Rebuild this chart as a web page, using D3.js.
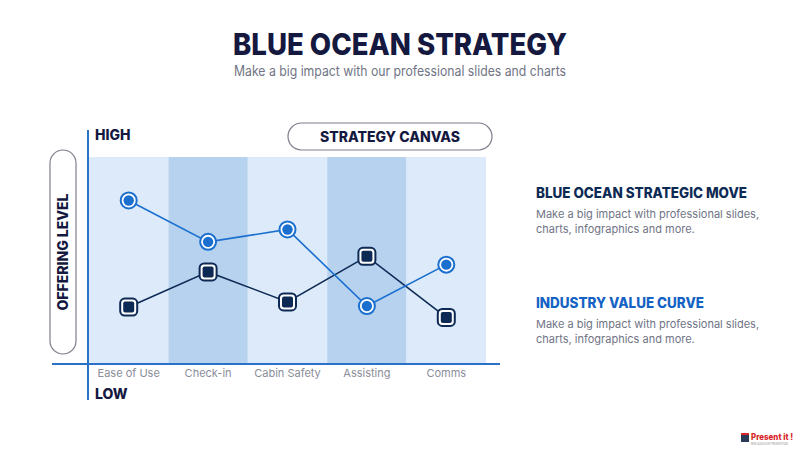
<!DOCTYPE html>
<html>
<head>
<meta charset="utf-8">
<script src="https://cdn.jsdelivr.net/npm/d3@7"></script>
<style>
  body { margin: 0; background: #fff; }
  text { font-family: "Inter", "Open Sans", sans-serif; }
</style>
</head>
<body>
<svg id="chart" width="800" height="450"></svg>
<script>
// chart data
var categories = ["Ease of Use", "Check-in", "Cabin Safety", "Assisting", "Comms"];
var strategicMove = [7.9, 5.9, 6.5, 2.8, 4.8];   // blue circles
var industryCurve = [2.75, 4.45, 3.0, 5.2, 2.25]; // dark squares
var yLabels = ["LOW", "HIGH"];

var svg = d3.select('#chart');
var navy = '#0d2a55', blue = '#1a6fcf', grey = '#707485';

// titles
svg.append('text')
    .attr('x', 400).attr('y', 55)
    .attr('text-anchor', 'middle')
    .attr('font-size', 30).attr('font-weight', 800)
    .attr('fill', '#15183f')
    .attr('textLength', 334).attr('lengthAdjust', 'spacingAndGlyphs')
    .text('BLUE OCEAN STRATEGY');
svg.append('text')
    .attr('x', 400).attr('y', 76)
    .attr('text-anchor', 'middle')
    .attr('font-size', 14)
    .attr('fill', grey)
    .attr('textLength', 332).attr('lengthAdjust', 'spacingAndGlyphs')
    .text('Make a big impact with our professional slides and charts');

// plot area
var plotL = 89, plotR = 486, plotT = 157, plotB = 364;

var x = d3.scaleBand()
    .domain(categories)
    .range([plotL, plotR]);
var y = d3.scaleLinear()
    .domain([0, 10])
    .range([plotB, plotT]);

svg.selectAll('rect.band')
    .data(categories)
    .enter()
    .append('rect')
    .attr('class', 'band')
    .attr('x', d => x(d))
    .attr('y', plotT)
    .attr('width', x.bandwidth())
    .attr('height', plotB - plotT)
    .attr('fill', (d, i) => i % 2 ? '#b7d2ee' : '#dceaf9');

// axes lines
svg.append('line')
    .attr('x1', 52).attr('x2', 500)
    .attr('y1', plotB).attr('y2', plotB)
    .style('stroke', '#2a72c8').style('stroke-width', 2);
svg.append('line')
    .attr('x1', plotL - 1).attr('x2', plotL - 1)
    .attr('y1', 130).attr('y2', 400)
    .style('stroke', '#2a72c8').style('stroke-width', 2);

// category labels
var xAxis = d3.axisBottom(x).tickSize(0).tickPadding(5);
var gx = svg.append('g')
    .attr('transform', 'translate(0,' + plotB + ')')
    .call(xAxis);
gx.select('.domain').remove();
gx.selectAll('text')
    .attr('font-size', 11)
    .attr('fill', '#8a8d99')
    .style('font-family', 'Inter, sans-serif');

// HIGH / LOW
svg.append('text')
    .attr('x', 95).attr('y', 140)
    .attr('font-size', 14).attr('font-weight', 800).attr('fill', '#15183f')
    .text(yLabels[1]);
svg.append('text')
    .attr('x', 95).attr('y', 399)
    .attr('font-size', 14).attr('font-weight', 800).attr('fill', '#15183f')
    .text(yLabels[0]);

// strategy canvas pill
svg.append('rect')
    .attr('x', 288).attr('y', 123)
    .attr('width', 204).attr('height', 27)
    .attr('rx', 13.5)
    .attr('fill', '#fff').attr('stroke', '#7d7f8c').attr('stroke-width', 1.2);
svg.append('text')
    .attr('x', 390).attr('y', 142)
    .attr('text-anchor', 'middle')
    .attr('font-size', 14).attr('font-weight', 800).attr('fill', '#15183f')
    .text('STRATEGY CANVAS');

// offering level pill
svg.append('rect')
    .attr('x', 50).attr('y', 150)
    .attr('width', 26).attr('height', 204)
    .attr('rx', 13)
    .attr('fill', '#fff').attr('stroke', '#7d7f8c').attr('stroke-width', 1.2);
svg.append('text')
    .attr('transform', 'translate(68,252) rotate(-90)')
    .attr('text-anchor', 'middle')
    .attr('font-size', 14).attr('font-weight', 800).attr('fill', '#15183f')
    .text('OFFERING LEVEL');

// lines
var line = d3.line()
    .x((d, i) => x(categories[i]) + x.bandwidth() / 2)
    .y(d => y(d));

svg.append('path')
    .datum(industryCurve)
    .attr('d', line)
    .attr('fill', 'none')
    .style('stroke', navy).style('stroke-width', 1.6);
svg.append('path')
    .datum(strategicMove)
    .attr('d', line)
    .attr('fill', 'none')
    .style('stroke', blue).style('stroke-width', 1.6);

// square markers
var sq = svg.selectAll('g.sq')
    .data(industryCurve)
    .enter()
    .append('g')
    .attr('class', 'sq')
    .attr('transform', (d, i) => 'translate(' + (x(categories[i]) + x.bandwidth() / 2) + ',' + y(d) + ')');
sq.append('rect')
    .attr('x', -8.5).attr('y', -8.5).attr('width', 17).attr('height', 17).attr('rx', 4.5)
    .attr('fill', '#fff').attr('stroke', navy).attr('stroke-width', 2);
sq.append('rect')
    .attr('x', -5.5).attr('y', -5.5).attr('width', 11).attr('height', 11).attr('rx', 2)
    .attr('fill', navy);

// circle markers
var ci = svg.selectAll('g.ci')
    .data(strategicMove)
    .enter()
    .append('g')
    .attr('class', 'ci')
    .attr('transform', (d, i) => 'translate(' + (x(categories[i]) + x.bandwidth() / 2) + ',' + y(d) + ')');
ci.append('circle')
    .attr('r', 8)
    .attr('fill', '#fff').attr('stroke', blue).attr('stroke-width', 2);
ci.append('circle')
    .attr('r', 5.2)
    .attr('fill', blue);

// right side notes
svg.append('text')
    .attr('x', 536).attr('y', 198)
    .attr('font-size', 14).attr('font-weight', 800).attr('fill', navy)
    .attr('textLength', 211).attr('lengthAdjust', 'spacingAndGlyphs')
    .text('BLUE OCEAN STRATEGIC MOVE');
svg.append('text')
    .attr('x', 536).attr('y', 308)
    .attr('font-size', 14).attr('font-weight', 800).attr('fill', '#1462c4')
    .attr('textLength', 168).attr('lengthAdjust', 'spacingAndGlyphs')
    .text('INDUSTRY VALUE CURVE');

[[218, 'Make a big impact with professional slides,'], [233, 'charts, infographics and more.'],
 [328, 'Make a big impact with professional slides,'], [343, 'charts, infographics and more.']]
    .forEach(function (t) {
        svg.append('text')
            .attr('x', 536).attr('y', t[0])
            .attr('font-size', 11).attr('fill', grey)
            .text(t[1]);
    });

// logo
var logo = svg.append('g').attr('transform', 'translate(741,432)');
logo.append('rect').attr('x', 0).attr('y', 1).attr('width', 8).attr('height', 9).attr('fill', '#2b3a55');
logo.append('rect').attr('x', 0).attr('y', 1).attr('width', 8).attr('height', 2).attr('fill', '#d6262a');
logo.append('text')
    .attr('x', 10).attr('y', 8)
    .attr('font-size', 9).attr('font-weight', 800).attr('fill', '#d6262a')
    .attr('textLength', 42).attr('lengthAdjust', 'spacingAndGlyphs')
    .text('Present it !');
logo.append('text')
    .attr('transform', 'translate(10,13) scale(0.5,1)')
    .attr('font-size', 4).attr('fill', '#888')
    .text('MAKE QUICK & EASY PRESENTATIONS');
</script>
</body>
</html>
